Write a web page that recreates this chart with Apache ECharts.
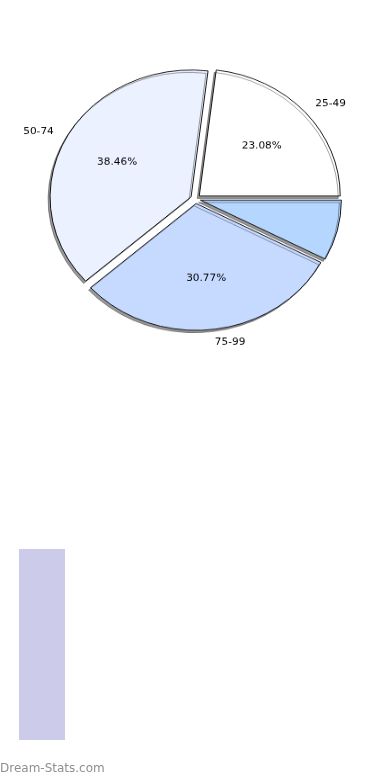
<!DOCTYPE html>
<html>
<head>
<meta charset="utf-8">
<script src="https://cdn.jsdelivr.net/npm/echarts@6/dist/echarts.min.js"></script>
<style>
  html, body { margin: 0; padding: 0; background: #ffffff; }
  #wrap { position: relative; width: 390px; height: 780px; overflow: hidden; }
  #bar { position: absolute; left: 0; top: 0; width: 390px; height: 780px; }
  #pie { position: absolute; left: 0; top: 0; width: 390px; height: 420px; transform: scaleY(0.9); transform-origin: 0 0; }
</style>
</head>
<body>
<div id="wrap">
  <div id="bar"></div>
  <div id="pie"></div>
</div>
<script>
// ---- data ----
var pieCategories = ['25-49', '50-74', '75-99', '100+'];
var pieValues = [3, 5, 4, 1];
var pieColors = ['#ffffff', '#ebf1ff', '#c6d9ff', '#b4d6ff'];
var pieShowLabel = [true, true, true, false];

var barCategories = [''];
var barValues = [1];

// ---- pie ----
var FONT = 'DejaVu Sans';
var R = 141;
var center = [195.5, 221.1];

var outerData = pieCategories.map(function (c, i) {
  return {
    name: c, value: pieValues[i], selected: true,
    itemStyle: { color: pieColors[i] },
    label: { show: pieShowLabel[i] }
  };
});
var innerData = pieCategories.map(function (c, i) {
  return {
    name: c, value: pieValues[i], selected: true,
    label: { show: pieShowLabel[i] }
  };
});

var pie = echarts.init(document.getElementById('pie'));
pie.setOption({
  animation: false,
  series: [
    {
      type: 'pie',
      center: center,
      radius: R,
      startAngle: 0,
      clockwise: false,
      selectedMode: 'multiple',
      selectedOffset: 5,
      avoidLabelOverlap: false,
      silent: true,
      itemStyle: {
        borderColor: '#000000',
        borderWidth: 0.9,
        shadowColor: 'rgba(0,0,0,0.4)',
        shadowBlur: 0,
        shadowOffsetX: -2,
        shadowOffsetY: 2.6
      },
      label: {
        show: true,
        position: 'outside',
        formatter: '{b}',
        fontFamily: FONT,
        fontSize: 10.5,
        color: '#000000',
        distanceToLabelLine: 0
      },
      labelLine: { show: false, length: 14.1, length2: 0 },
      emphasis: { disabled: true },
      select: { disabled: false, itemStyle: { borderColor: '#000000', borderWidth: 0.9 } },
      data: outerData
    },
    {
      type: 'pie',
      center: center,
      radius: [20, R],
      startAngle: 0,
      clockwise: false,
      selectedMode: 'multiple',
      selectedOffset: 5,
      avoidLabelOverlap: false,
      silent: true,
      z: 3,
      itemStyle: { color: 'rgba(0,0,0,0)', borderWidth: 0 },
      label: {
        show: true,
        position: 'inside',
        formatter: '{d}%',
        fontFamily: FONT,
        fontSize: 10.5,
        color: '#000000'
      },
      labelLine: { show: false },
      emphasis: { disabled: true },
      select: { itemStyle: { color: 'rgba(0,0,0,0)', borderWidth: 0 } },
      data: innerData
    }
  ]
});

// ---- bar ----
var bar = echarts.init(document.getElementById('bar'));
bar.setOption({
  animation: false,
  grid: { left: 19, width: 46, top: 549, height: 191 },
  xAxis: { type: 'category', data: barCategories, show: false },
  yAxis: { type: 'value', min: 0, max: 1, show: false },
  series: [{
    type: 'bar',
    data: barValues,
    barWidth: '100%',
    silent: true,
    itemStyle: { color: '#ccccea' }
  }],
  graphic: [{
    type: 'text',
    left: 0,
    top: 763,
    style: {
      text: 'Dream-Stats.com',
      fontFamily: FONT,
      fontSize: 12,
      fontWeight: 'normal',
      fill: '#8f8f8f'
    }
  }]
});
</script>
</body>
</html>
